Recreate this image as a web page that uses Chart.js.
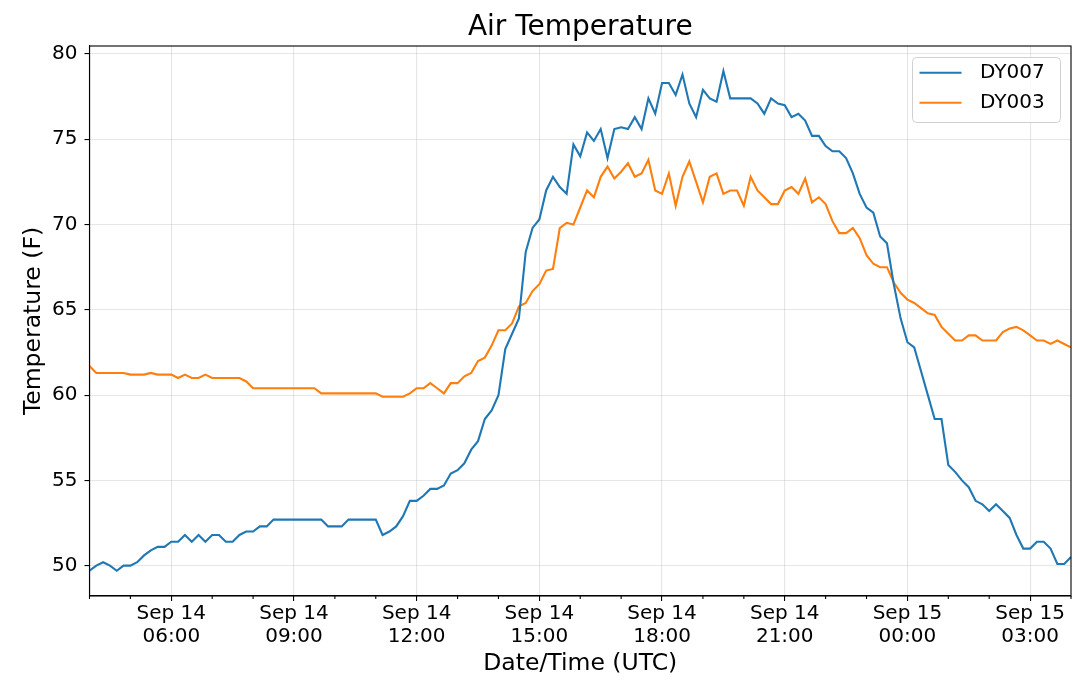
<!DOCTYPE html>
<html>
<head>
<meta charset="utf-8">
<title>Air Temperature</title>
<script src="https://cdn.jsdelivr.net/npm/chart.js@4/dist/chart.umd.min.js"></script>
<style>
  html, body { margin: 0; padding: 0; background: #ffffff; }
  canvas { display: block; }
</style>
</head>
<body>
<canvas id="chart" width="1079" height="696" style="width:1079px;height:696px"></canvas>
<script>
// ---------------- data ----------------
const chartTitle = 'Air Temperature';
const xAxisTitle = 'Date/Time (UTC)';
const yAxisTitle = 'Temperature (F)';
const seriesNames = ['DY007', 'DY003'];
const seriesColors = ['#1f77b4', '#ff7f0e'];

// samples every 10 minutes, Sep 14 04:00 UTC -> Sep 15 04:00 UTC (hours since Sep 14 00:00)
const startHour = 4;
const stepMinutes = 10;

const dy007 = [
  49.7, 50.0, 50.2, 50.0, 49.7, 50.0, 50.0, 50.2, 50.6, 50.9,
  51.1, 51.1, 51.4, 51.4, 51.8, 51.4, 51.8, 51.4, 51.8, 51.8,
  51.4, 51.4, 51.8, 52.0, 52.0, 52.3, 52.3, 52.7, 52.7, 52.7,
  52.7, 52.7, 52.7, 52.7, 52.7, 52.3, 52.3, 52.3, 52.7, 52.7,
  52.7, 52.7, 52.7, 51.8, 52.0, 52.3, 52.9, 53.8, 53.8, 54.1,
  54.5, 54.5, 54.7, 55.4, 55.6, 56.0, 56.8, 57.3, 58.6, 59.1,
  60.0, 62.7, 63.6, 64.5, 68.4, 69.8, 70.3, 72.0, 72.8, 72.2,
  71.8, 74.7, 74.0, 75.4, 74.9, 75.6, 73.9, 75.6, 75.7, 75.6,
  76.3, 75.6, 77.4, 76.5, 78.3, 78.3, 77.6, 78.8, 77.1, 76.3,
  77.9, 77.4, 77.2, 79.0, 77.4, 77.4, 77.4, 77.4, 77.1, 76.5,
  77.4, 77.1, 77.0, 76.3, 76.5, 76.1, 75.2, 75.2, 74.6, 74.3,
  74.3, 73.9, 73.0, 71.8, 71.0, 70.7, 69.3, 68.9, 66.5, 64.5,
  63.1, 62.8, 61.4, 60.0, 58.6, 58.6, 55.9, 55.5, 55.0, 54.6,
  53.8, 53.6, 53.2, 53.6, 53.2, 52.8, 51.8, 51.0, 51.0, 51.4,
  51.4, 51.0, 50.1, 50.1, 50.5
];

const dy003 = [
  61.7, 61.3, 61.3, 61.3, 61.3, 61.3, 61.2, 61.2, 61.2, 61.3,
  61.2, 61.2, 61.2, 61.0, 61.2, 61.0, 61.0, 61.2, 61.0, 61.0,
  61.0, 61.0, 61.0, 60.8, 60.4, 60.4, 60.4, 60.4, 60.4, 60.4,
  60.4, 60.4, 60.4, 60.4, 60.1, 60.1, 60.1, 60.1, 60.1, 60.1,
  60.1, 60.1, 60.1, 59.9, 59.9, 59.9, 59.9, 60.1, 60.4, 60.4,
  60.7, 60.4, 60.1, 60.7, 60.7, 61.1, 61.3, 62.0, 62.2, 62.9,
  63.8, 63.8, 64.2, 65.2, 65.4, 66.1, 66.5, 67.3, 67.4, 69.8,
  70.1, 70.0, 71.0, 72.0, 71.6, 72.8, 73.4, 72.7, 73.1, 73.6,
  72.8, 73.0, 73.8, 72.0, 71.8, 73.0, 71.1, 72.8, 73.7, 72.5,
  71.3, 72.8, 73.0, 71.8, 72.0, 72.0, 71.1, 72.8, 72.0, 71.6,
  71.2, 71.2, 72.0, 72.2, 71.8, 72.7, 71.3, 71.6, 71.2, 70.2,
  69.5, 69.5, 69.8, 69.2, 68.2, 67.7, 67.5, 67.5, 66.6, 66.0,
  65.6, 65.4, 65.1, 64.8, 64.7, 64.0, 63.6, 63.2, 63.2, 63.5,
  63.5, 63.2, 63.2, 63.2, 63.7, 63.9, 64.0, 63.8, 63.5, 63.2,
  63.2, 63.0, 63.2, 63.0, 62.8
];

// axis ticks
const xMin = 4, xMax = 28;
const xMajorHours = [6, 9, 12, 15, 18, 21, 24, 27];
const xMajorLabels = [
  ['Sep 14', '06:00'], ['Sep 14', '09:00'], ['Sep 14', '12:00'], ['Sep 14', '15:00'],
  ['Sep 14', '18:00'], ['Sep 14', '21:00'], ['Sep 15', '00:00'], ['Sep 15', '03:00']
];
const xMinorHours = [4, 5, 7, 8, 10, 11, 13, 14, 16, 17, 19, 20, 22, 23, 25, 26, 28];
const yMin = 48.22, yMax = 80.47;
const yTicks = [50, 55, 60, 65, 70, 75, 80];

// ---------------- helpers ----------------
const FONT = "'DejaVu Sans', 'Liberation Sans', sans-serif";
const GRID = 'rgba(176,176,176,0.32)';
const CLEAR = 'rgba(0,0,0,0)';

function toPoints(values) {
  return values.map((v, i) => ({ x: startHour + i * stepMinutes / 60, y: v }));
}
const isMajorX = (v) => xMajorHours.indexOf(v) >= 0;

// frame (all four spines) + minor x ticks
const framePlugin = {
  id: 'frame',
  afterDatasetsDraw(chart) {
    const { ctx, chartArea: a } = chart;
    const xs = chart.scales.x;
    ctx.save();
    ctx.strokeStyle = '#000';
    ctx.lineWidth = 1.1;
    ctx.strokeRect(a.left, a.top, a.right - a.left, a.bottom - a.top);
    ctx.beginPath();
    xMinorHours.forEach(h => {
      const px = xs.getPixelForValue(h);
      ctx.moveTo(px, a.bottom);
      ctx.lineTo(px, a.bottom + 3);
    });
    ctx.stroke();
    ctx.restore();
  }
};

// matplotlib-style legend box in the upper right
const legendPlugin = {
  id: 'mplLegend',
  afterDraw(chart) {
    const { ctx } = chart;
    const bx = 912.5, by = 57.5, bw = 148, bh = 65, r = 4;
    ctx.save();
    ctx.beginPath();
    ctx.moveTo(bx + r, by);
    ctx.lineTo(bx + bw - r, by);
    ctx.arcTo(bx + bw, by, bx + bw, by + r, r);
    ctx.lineTo(bx + bw, by + bh - r);
    ctx.arcTo(bx + bw, by + bh, bx + bw - r, by + bh, r);
    ctx.lineTo(bx + r, by + bh);
    ctx.arcTo(bx, by + bh, bx, by + bh - r, r);
    ctx.lineTo(bx, by + r);
    ctx.arcTo(bx, by, bx + r, by, r);
    ctx.closePath();
    ctx.fillStyle = 'rgba(255,255,255,0.8)';
    ctx.fill();
    ctx.strokeStyle = '#d0d0d0';
    ctx.lineWidth = 1;
    ctx.stroke();
    ctx.font = '20px ' + FONT;
    ctx.textBaseline = 'middle';
    ctx.textAlign = 'left';
    chart.data.datasets.forEach((ds, k) => {
      const y = 72.7 + k * 30;
      ctx.strokeStyle = ds.borderColor;
      ctx.lineWidth = 2.1;
      ctx.beginPath();
      ctx.moveTo(919.5, y);
      ctx.lineTo(961.5, y);
      ctx.stroke();
      ctx.fillStyle = '#000';
      ctx.fillText(ds.label, 980, y + 0.5);
    });
    ctx.restore();
  }
};

// ---------------- chart ----------------
const ctx = document.getElementById('chart').getContext('2d');
new Chart(ctx, {
  type: 'line',
  data: {
    datasets: [
      { label: seriesNames[0], data: toPoints(dy007), borderColor: seriesColors[0], backgroundColor: seriesColors[0],
        borderWidth: 2.1, pointRadius: 0, tension: 0, fill: false },
      { label: seriesNames[1], data: toPoints(dy003), borderColor: seriesColors[1], backgroundColor: seriesColors[1],
        borderWidth: 2.1, pointRadius: 0, tension: 0, fill: false }
    ]
  },
  options: {
    responsive: false,
    animation: false,
    events: [],
    layout: { padding: { left: 0, right: 8, top: 0, bottom: 0 } },
    plugins: {
      legend: { display: false },
      tooltip: { enabled: false },
      title: {
        display: true,
        fullSize: false,
        text: chartTitle,
        color: '#000',
        font: { family: FONT, size: 28, weight: 'normal', lineHeight: 1.2 },
        padding: { top: 11.2, bottom: 1.2 }
      }
    },
    scales: {
      x: {
        type: 'linear',
        min: xMin,
        max: xMax,
        afterFit(scale) { scale.height = 100; },
        afterBuildTicks(scale) {
          const t = [];
          for (let h = xMin; h <= xMax; h++) t.push({ value: h });
          scale.ticks = t;
        },
        ticks: {
          autoSkip: false,
          maxRotation: 0,
          minRotation: 0,
          padding: 1,
          color: '#000',
          font: { family: FONT, size: 20, lineHeight: 1.165 },
          callback(value) {
            const k = xMajorHours.indexOf(value);
            return k >= 0 ? xMajorLabels[k] : '';
          }
        },
        grid: {
          color: (c) => (c.tick && isMajorX(c.tick.value)) ? GRID : CLEAR,
          lineWidth: 1.1,
          tickLength: 5,
          tickWidth: 1.1,
          tickColor: (c) => (c.tick && isMajorX(c.tick.value)) ? '#000' : CLEAR
        },
        border: { display: true, color: '#000', width: 1.1 },
        title: {
          display: true,
          text: xAxisTitle,
          color: '#000',
          font: { family: FONT, size: 23.5, lineHeight: 1.2 },
          padding: { top: 0, bottom: 17.7 }
        }
      },
      y: {
        type: 'linear',
        min: yMin,
        max: yMax,
        afterFit(scale) { scale.width = 89.5; },
        afterBuildTicks(scale) { scale.ticks = yTicks.map(v => ({ value: v })); },
        ticks: {
          padding: 7,
          color: '#000',
          font: { family: FONT, size: 20 },
          callback: (v) => String(v)
        },
        grid: { color: GRID, lineWidth: 1.1, tickLength: 5, tickWidth: 1.1, tickColor: '#000' },
        border: { display: true, color: '#000', width: 1.1 },
        title: {
          display: true,
          text: yAxisTitle,
          color: '#000',
          font: { family: FONT, size: 23.5, lineHeight: 1.2 },
          padding: { top: 19.9, bottom: 0 }
        }
      }
    }
  },
  plugins: [framePlugin, legendPlugin]
});
</script>
</body>
</html>
